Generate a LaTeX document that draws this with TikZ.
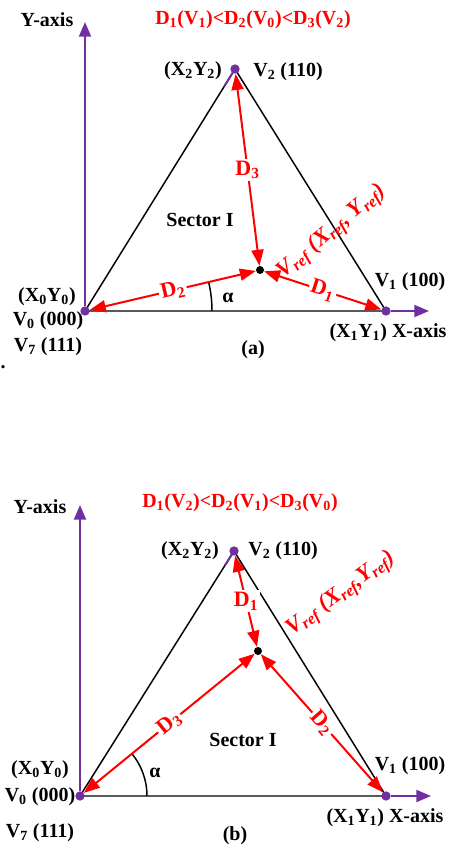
\documentclass[tikz,border=0pt]{standalone}
\usepackage{fontspec}
\setmainfont{Liberation Serif}
\usetikzlibrary{arrows.meta,calc}
\definecolor{axisPurple}{RGB}{112,48,160}
\definecolor{distRed}{RGB}{255,0,0}

\begin{document}
\begin{tikzpicture}[
    x=0.75pt,y=0.75pt,
    txt/.style={font=\fontsize{15}{17}\selectfont\bfseries,inner sep=1pt},
    redtxt/.style={txt,text=distRed},
    reftxt/.style={redtxt,font=\fontsize{17}{19}\selectfont\bfseries\itshape},
    vdot/.style={circle,fill=axisPurple,inner sep=0pt,minimum size=7pt},
    refdot/.style={circle,fill=black,inner sep=0pt,minimum size=6pt},
    side/.style={line width=1.1pt,draw=black},
    axis/.style={-{Triangle[length=11pt,width=9pt]},line width=1.5pt,draw=axisPurple},
    dist/.style={{Triangle[length=12pt,width=9pt]}-{Triangle[length=12pt,width=9pt]},line width=1.5pt,draw=distRed},
    dlabel/.style={redtxt,font=\fontsize{16.5}{18}\selectfont\bfseries,fill=white,inner sep=1.5pt},
    angarc/.style={line width=1.1pt,draw=black}
  ]
    \useasboundingbox (0,0) rectangle (449,-850);

    % (a)
    \coordinate (a0) at (85,-311);
    \coordinate (a1) at (386,-311);
    \coordinate (a2) at (235,-69);
    \coordinate (ay) at (85,-22);
    \coordinate (ax) at (429,-311);
    \draw[side] (a0) -- (a1) -- (a2) -- cycle;
    \draw[axisPurple,line width=1.5pt] (a2) -- ($(a2)!0.07!(a0)$);
    \draw[angarc] ($(a0)+(127,0)$) arc[start angle=0,end angle=13.2,radius=127];
    \node[vdot] (a0d) at (a0) {};
    \node[vdot] (a1d) at (a1) {};
    \node[vdot] (a2d) at (a2) {};
    \node[refdot] (ard) at (260,-270) {};
    \draw[axis] (a0d) -- (ay);
    \draw[axis] (a1d) -- (ax);
    \draw[dist] (a2d) -- node[dlabel] {D\textsubscript{3}} (ard);
    \draw[dist] (a0d) -- node[dlabel,sloped] {D\textsubscript{2}} (ard);
    \draw[dist] (ard) -- node[dlabel,sloped] {D\textsubscript{1}} (a1d);
    \node[txt] (ayl) at (47,-20) {Y-axis};
    \node[redtxt] (atitle) at (253,-20) {D\textsubscript{1}(V\textsubscript{1})<D\textsubscript{2}(V\textsubscript{0})<D\textsubscript{3}(V\textsubscript{2})};
    \node[txt] (a2xy) at (193,-71) {(X\textsubscript{2}Y\textsubscript{2})};
    \node[txt] (a2v) at (288,-72) {V\textsubscript{2} (110)};
    \node[txt] (asec) at (200,-220) {Sector I};
    \node[reftxt,rotate=40] (aref) at (332,-232) {V\textsubscript{ref} (X\textsubscript{ref}, Y\textsubscript{ref})};
    \node[txt] (aalpha) at (228,-298) {α};
    \node[txt] (a1v) at (410,-282) {V\textsubscript{1} (100)};
    \node[txt] (a0xy) at (47,-297) {(X\textsubscript{0}Y\textsubscript{0})};
    \node[txt] (a0v) at (48,-321) {V\textsubscript{0} (000)};
    \node[txt] (a7v) at (48,-347) {V\textsubscript{7} (111)};
    \node[txt] (a1xy) at (388,-333) {(X\textsubscript{1}Y\textsubscript{1}) X-axis};
    \node[txt] (acap) at (253,-350) {(a)};
    \node[txt] (adot) at (3,-367) {.};

    % (b)
    \coordinate (b0) at (80,-796);
    \coordinate (b1) at (386,-796);
    \coordinate (b2) at (234,-551);
    \coordinate (by) at (80,-505);
    \coordinate (bx) at (431,-796);
    \draw[side] (b0) -- (b1) -- (b2) -- cycle;
    \draw[axisPurple,line width=1.5pt] (b2) -- ($(b2)!0.06!(b0)$);
    \draw[angarc] ($(b0)+(67,0)$) arc[start angle=0,end angle=39.5,radius=67];
    \node[vdot] (b0d) at (b0) {};
    \node[vdot] (b1d) at (b1) {};
    \node[vdot] (b2d) at (b2) {};
    \node[refdot] (brd) at (258,-651) {};
    \draw[axis] (b0d) -- (by);
    \draw[axis] (b1d) -- (bx);
    \draw[dist] (b2d) -- node[dlabel] {D\textsubscript{1}} (brd);
    \draw[dist] (b0d) -- node[dlabel,sloped] {D\textsubscript{3}} (brd);
    \draw[dist] (brd) -- node[dlabel,sloped] {D\textsubscript{2}} (b1d);
    \node[txt] (byl) at (40,-507) {Y-axis};
    \node[redtxt] (btitle) at (240,-503) {D\textsubscript{1}(V\textsubscript{2})<D\textsubscript{2}(V\textsubscript{1})<D\textsubscript{3}(V\textsubscript{0})};
    \node[txt] (b2xy) at (190,-551) {(X\textsubscript{2}Y\textsubscript{2})};
    \node[txt] (b2v) at (283,-551) {V\textsubscript{2} (110)};
    \node[reftxt,rotate=36] (bref) at (341,-594) {V\textsubscript{ref} (X\textsubscript{ref},Y\textsubscript{ref})};
    \node[txt] (bsec) at (243,-740) {Sector I};
    \node[txt] (balpha) at (155,-773) {α};
    \node[txt] (b1v) at (410,-766) {V\textsubscript{1} (100)};
    \node[txt] (b0xy) at (40,-770) {(X\textsubscript{0}Y\textsubscript{0})};
    \node[txt] (b0v) at (40,-797) {V\textsubscript{0} (000)};
    \node[txt] (b7v) at (40,-833) {V\textsubscript{7} (111)};
    \node[txt] (b1xy) at (385,-818) {(X\textsubscript{1}Y\textsubscript{1}) X-axis};
    \node[txt] (bcap) at (235,-836) {(b)};
\end{tikzpicture}
\end{document}
